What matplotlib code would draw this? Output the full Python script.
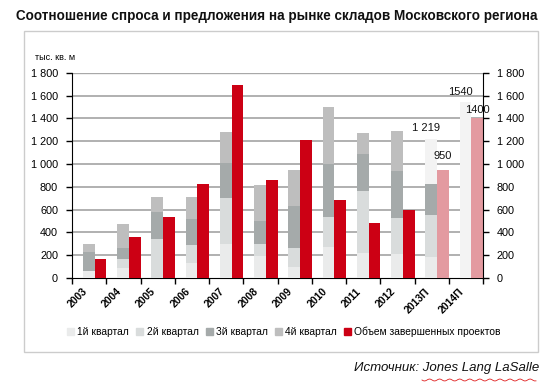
import matplotlib
matplotlib.use("Agg")
import matplotlib.pyplot as plt
from matplotlib import font_manager as fm
from matplotlib.patches import Rectangle
import numpy as np

# ---------------- data ----------------
years = ['2003', '2004', '2005', '2006', '2007', '2008', '2009', '2010',
         '2011', '2012', '2013П', '2014П']
q1 = [62, 85, 0, 134, 298, 193, 94, 269, 222, 210, 187, 0]
q2 = [0, 84, 342, 158, 406, 105, 169, 266, 541, 316, 368, 0]
q3 = [166, 94, 239, 225, 302, 202, 368, 462, 321, 412, 269, 0]
q4 = [70, 210, 129, 193, 274, 315, 316, 502, 187, 351, 0, 0]
forecast_total = [0, 0, 0, 0, 0, 0, 0, 0, 0, 0, 1219, 1540]
completed = [169, 359, 537, 826, 1692, 861, 1211, 686, 484, 598, 950, 1400]
forecast_flags = [False] * 10 + [True, True]
yticks = [0, 200, 400, 600, 800, 1000, 1200, 1400, 1600, 1800]

legend_labels = ['1й квартал', '2й квартал', '3й квартал', '4й квартал',
                 'Объем завершенных проектов']
title = 'Соотношение спроса и предложения на рынке складов Московского региона'
unit = 'тыс. кв. м'
source = 'Источник: Jones Lang LaSalle'

# ---------------- fonts ----------------
avail = {f.name for f in fm.fontManager.ttflist}
narrow = 'Liberation Sans Narrow' if 'Liberation Sans Narrow' in avail else 'Liberation Sans'
base = 'Liberation Sans' if 'Liberation Sans' in avail else 'DejaVu Sans'
plt.rcParams['font.family'] = [base, 'DejaVu Sans']

# ---------------- colours ----------------
c_q1 = '#eaebeb'
c_q2 = '#d9dcdc'
c_q3 = '#a5aaaa'
c_q4 = '#bebebe'
c_fc = '#f3f3f3'
c_red = '#cc0014'
c_pink = '#e39aa0'

W, H = 559, 387
fig = plt.figure(figsize=(W / 100, H / 100), dpi=100)
fig.patch.set_facecolor('white')

def px(x, y):
    return x / W, 1 - y / H

# frame
fig.patches.append(Rectangle(px(24, 352), (538 - 24) / W, (352 - 31) / H,
                             transform=fig.transFigure, fill=False,
                             edgecolor='#cccccc', lw=1.0))

left, right, top, bottom = 72, 483, 72.7, 278
ax = fig.add_axes([left / W, 1 - bottom / H, (right - left) / W, (bottom - top) / H])

n = len(years)
idx = np.arange(n)
bw = 0.34
xs = idx + 0.32 + bw / 2
xr = idx + 0.66 + bw / 2

bottoms = np.zeros(n)
for vals, col in [(q1, c_q1), (q2, c_q2), (q3, c_q3), (q4, c_q4)]:
    v = np.array(vals, dtype=float)
    ax.bar(xs, v, bw, bottom=bottoms, color=col, zorder=3, linewidth=0)
    bottoms += v
rest = np.maximum(np.array(forecast_total, dtype=float) - bottoms, 0)
ax.bar(xs, rest, bw, bottom=bottoms, color=c_fc, zorder=3, linewidth=0)

red_cols = [c_pink if f else c_red for f in forecast_flags]
ax.bar(xr, completed, bw, color=red_cols, zorder=3, linewidth=0)

def fmt(v):
    return f'{v:,}'.replace(',', ' ')

# data labels for forecast years
for i in range(n):
    if forecast_flags[i]:
        tot = forecast_total[i]
        lab_tot = fmt(tot) if tot != 1540 else '1540'
        ax.text(xs[i] - 0.15, tot + 50, lab_tot, ha='center', va='bottom',
                fontsize=8, color='#111111', zorder=5)
        c = completed[i]
        ax.text(xr[i], c + 80 if c < 1000 else c + 30, str(c), ha='center',
                va='bottom', fontsize=8, color='#111111', zorder=5)

ax.set_xlim(0, n)
ax.set_ylim(0, 1800)
ax.set_yticks(yticks)
ax.set_yticklabels([fmt(v) for v in yticks], fontsize=7.8)
for y in yticks[1:]:
    ax.axhline(y, color='#b0b0b0' if y < 1800 else '#a8a8a8',
               lw=1.4 if y < 1800 else 1.7, zorder=1)

ax.set_xticks(np.arange(n + 1))
ax.set_xticklabels([])
ax.set_xticks(idx + 0.5, minor=True)
ax.set_xticklabels(years, minor=True, rotation=45, ha='right', va='top',
                   fontsize=7.5, fontweight='bold', family=narrow)
ax.tick_params(axis='x', which='major', direction='out', length=4, width=1, color='black')
ax.tick_params(axis='x', which='minor', length=0, pad=6)
ax.tick_params(axis='y', direction='out', length=4, width=1, color='black', pad=6)

for s in ['top', 'right']:
    ax.spines[s].set_visible(False)
ax.spines['left'].set_color('black')
ax.spines['bottom'].set_color('black')

ax2 = ax.twinx()
ax2.set_ylim(0, 1800)
ax2.set_yticks(yticks)
ax2.set_yticklabels([fmt(v) for v in yticks], fontsize=7.8)
ax2.tick_params(axis='y', direction='out', length=4, width=1, color='black', pad=6)
for s in ['top', 'left', 'bottom']:
    ax2.spines[s].set_visible(False)
ax2.spines['right'].set_color('black')

# legend
handles = [Rectangle((0, 0), 1, 1, color=c) for c in [c_q1, c_q2, c_q3, c_q4, c_red]]
fig.legend(handles, legend_labels, loc='center', bbox_to_anchor=px(284, 332),
           ncol=5, frameon=False, fontsize=7.4, handlelength=0.7, handleheight=0.7,
           handletextpad=0.3, columnspacing=0.7, borderaxespad=0)

# unit label
fig.text(*px(35, 58), unit, fontsize=6.5, ha='left', va='center')

# title (fit width)
t = fig.text(*px(16, 16), title, fontsize=11, fontweight='bold', family=narrow,
             ha='left', va='center', color='#111111')
fig.canvas.draw()
wpx = t.get_window_extent().width
t.set_fontsize(11 * (538 - 16) / wpx)

s = fig.text(*px(539, 368), source, fontsize=10, style='italic', family=narrow,
             ha='right', va='center', color='#111111')
fig.canvas.draw()
wpx = s.get_window_extent().width
s.set_fontsize(10 * (539 - 353) / wpx)

# spell-check squiggle under the source name
xx = np.linspace(422, 536, 80)
yy = 380 + 1.0 * np.sin((xx - 422) / 1.6)
fig.add_artist(plt.Line2D(xx / W, 1 - yy / H, transform=fig.transFigure,
                          color='#e02020', lw=0.6))

fig.savefig('out.png', dpi=100, facecolor='white')
